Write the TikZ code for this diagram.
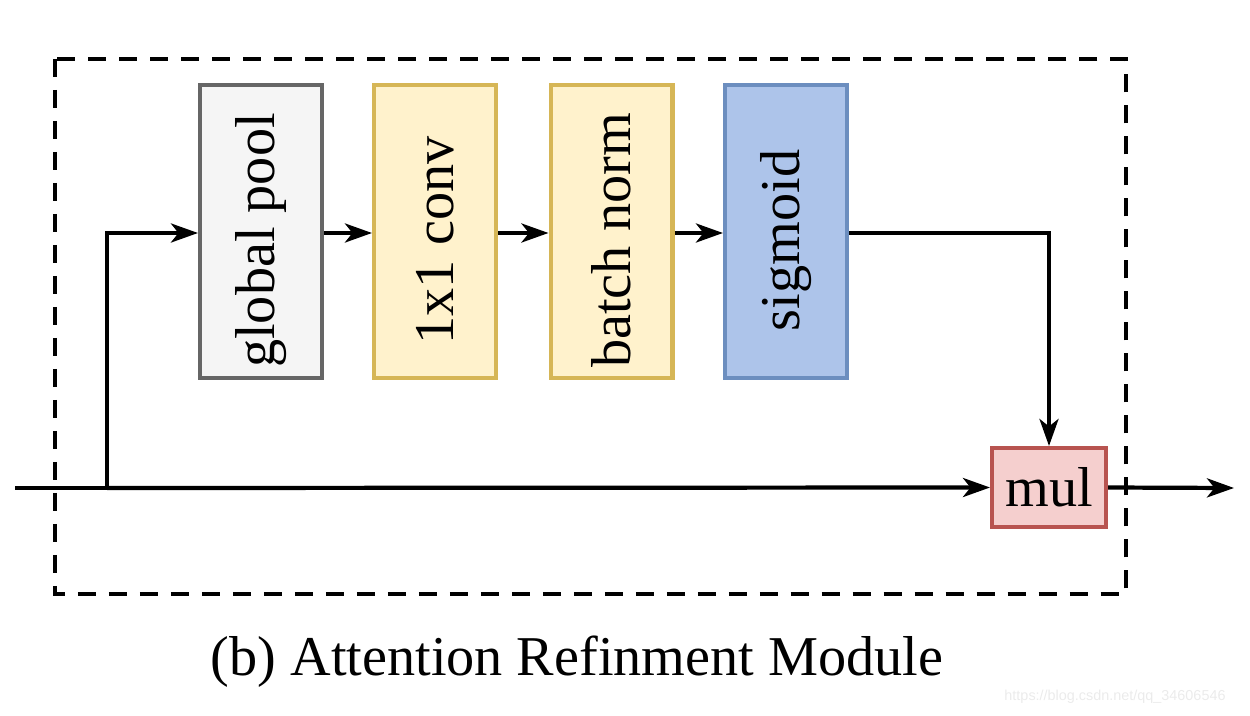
\documentclass[tikz,border=0pt]{standalone}
\usepackage{fontspec}
\setmainfont{Liberation Serif}
\newfontfamily\wmfont{Liberation Sans}
\usetikzlibrary{arrows.meta}
\definecolor{gpfill}{HTML}{F5F5F5}
\definecolor{gpdraw}{HTML}{666666}
\definecolor{yfill}{HTML}{FFF2CC}
\definecolor{ydraw}{HTML}{D6B656}
\definecolor{bfill}{HTML}{ADC4EA}
\definecolor{bdraw}{HTML}{6C8EBF}
\definecolor{rfill}{HTML}{F5CFCE}
\definecolor{rdraw}{HTML}{B85450}
\tikzset{
  blk/.style={rectangle, line width=2.3pt, minimum width=2.44cm, minimum height=5.86cm, inner sep=0pt,
    font=\fontsize{32}{36}\selectfont},
  lbl/.style={rotate=90, font=\fontsize{32}{36}\selectfont},
  conn/.style={line width=2.4pt, -{Stealth[length=0.54cm,width=0.38cm,inset=0.15cm]}},
  plain/.style={line width=2.4pt},
}
\begin{document}
\begin{tikzpicture}[x=0.02cm,y=-0.02cm]
\useasboundingbox (0,0) rectangle (1250,716);
% dashed frame
\draw[line width=2.4pt, dash pattern=on 0.36cm off 0.26cm] (55,59) rectangle (1126,594);
% blocks
\node[blk, fill=gpfill, draw=gpdraw] (gp) at (261,231.5) {};
\node[lbl] (gpl) at ([yshift=-0.18cm]gp.center) {global pool};
\node[blk, fill=yfill, draw=ydraw] (cv) at (435,231.5) {};
\node[lbl] (cvl) at ([yshift=-0.18cm]cv.center) {1x1 conv};
\node[blk, fill=yfill, draw=ydraw] (bn) at (611.5,231.5) {};
\node[lbl] (bnl) at ([yshift=-0.18cm]bn.center) {batch norm};
\node[blk, fill=bfill, draw=bdraw] (sg) at (786,231.5) {};
\node[lbl] (sgl) at ([yshift=-0.18cm]sg.center) {sigmoid};
\node[rectangle, line width=2.3pt, fill=rfill, draw=rdraw, minimum width=2.28cm, minimum height=1.58cm,
  inner sep=0pt, font=\fontsize{32}{36}\selectfont] (mul) at (1049,487.5) {mul};
% coordinates
\coordinate (in) at (15,488);
\coordinate (br) at (107,488);
\coordinate (out) at (1234,488);
% connectors
\draw[plain] (in) -- (br);
\draw[conn] (br) -- (mul.west);
\draw[conn] (br) |- (gp.west |- 0,233);
\draw[conn] (gp.east |- 0,233) -- (cv.west |- 0,233);
\draw[conn] (cv.east |- 0,233) -- (bn.west |- 0,233);
\draw[conn] (bn.east |- 0,233) -- (sg.west |- 0,233);
\draw[conn] (sg.east |- 0,233) -| (mul.north);
\draw[conn] (mul.east) -- (out);
% caption
\node[font=\fontsize{32}{36}\selectfont] (cap) at (577,662) {(b) Attention Refinment Module};
\node[font=\wmfont\fontsize{8.2}{10}\selectfont, text=black!8] (wm) at (1115,697) {https://blog.csdn.net/qq\_34606546};
\end{tikzpicture}
\end{document}
